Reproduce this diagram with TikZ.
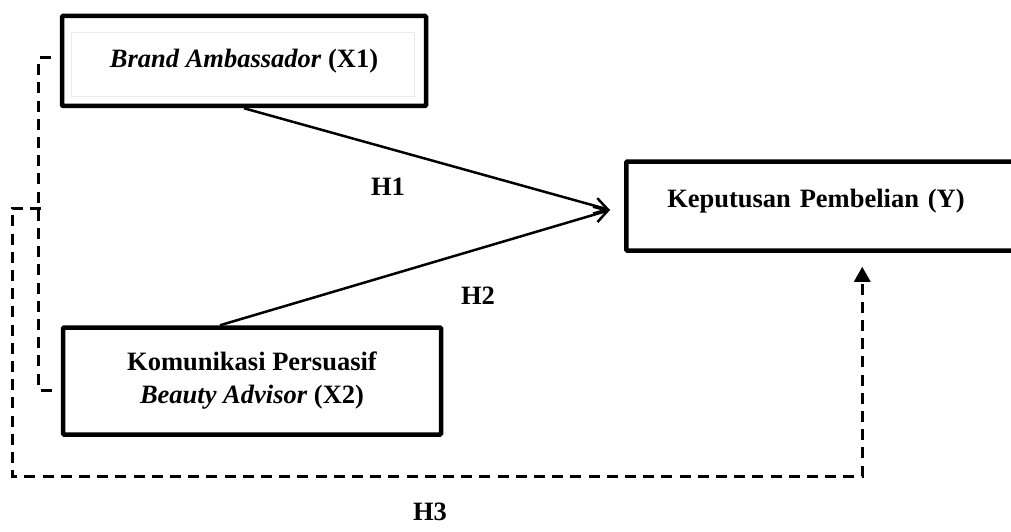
\documentclass[tikz,border=0pt]{standalone}
\usepackage{fontspec}
\setmainfont{Liberation Serif}
\usetikzlibrary{arrows.meta}

\begin{document}
\begin{tikzpicture}[x=1pt, y=-1pt,
  box/.style = {draw, line width=4.5pt, rounded corners=1pt, align=center, font=\bfseries\fontsize{26.5}{33}\selectfont},
  lbl/.style = {font=\bfseries\fontsize{26.5}{33}\selectfont},
  link/.style = {line width=2.5pt, -{Straight Barb[length=13pt,width=16pt]}},
  dashline/.style = {line width=3pt, dash pattern=on 11pt off 7.2pt}]
\useasboundingbox (0,0) rectangle (1011,532);
\clip (0,0) rectangle (1011,532);
\node[box, minimum width=364pt, minimum height=90pt] (X1) at (244,61) {\textit{Brand Ambassador} (X1)};
\draw[line width=1pt, black!8] (71,33) rectangle (414,97);
\node[box, minimum width=378pt, minimum height=107pt] (X2) at (252,381) {Komunikasi Persuasif\\\textit{Beauty Advisor} (X2)};
\node[box, anchor=west, minimum height=89pt, text width=338pt, inner xsep=41pt, align=left, text height=18pt, text depth=15pt] (Y) at (624,206) {Keputusan Pembelian (Y)};
\coordinate (meet) at (610,210);
\coordinate (join) at (41,208);
\draw[link] (X1.south) -- (meet);
\draw[link] ([xshift=-32pt]X2.north) -- (meet);
\draw[dashline] ([xshift=-9pt,yshift=3pt]X1.west) -- ++(-12,0) |- ([xshift=-8pt,yshift=-9pt]X2.west);
\draw[dashline, -{Triangle[length=15pt,width=16pt]}] (join) -- (12,208) -- (12,476) -| ([xshift=26pt,yshift=-14pt]Y.south);
\node[lbl] (H1) at (388,187) {H1};
\node[lbl] (H2) at (478,296) {H2};
\node[lbl] (H3) at (430,512) {H3};
\end{tikzpicture}
\end{document}
